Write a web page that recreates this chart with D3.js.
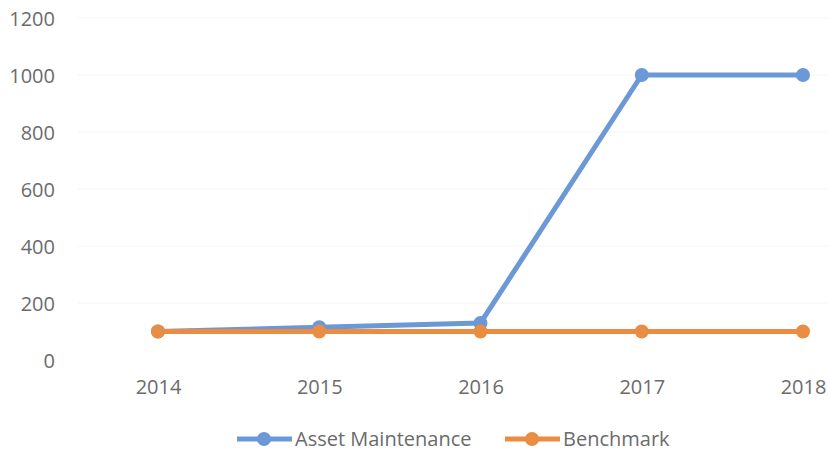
<!DOCTYPE html>
<html>
<head>
<meta charset="utf-8">
<script src="https://cdn.jsdelivr.net/npm/d3@7"></script>
<style>
  body { margin: 0; background: #fff; }
  text { font-family: "Open Sans", sans-serif; fill: #6b6b6b; }
</style>
</head>
<body>
<svg></svg>
<script>
const width = 828;
const height = 451;

const years = ["2014", "2015", "2016", "2017", "2018"];
const assetMaintenance = [100, 115, 130, 1000, 1000];
const benchmark = [100, 100, 100, 100, 100];
const yTicks = [0, 200, 400, 600, 800, 1000, 1200];

const series = [
  {name: "Asset Maintenance", values: assetMaintenance, color: "#6b98d6"},
  {name: "Benchmark", values: benchmark, color: "#ea8c42"}
];

const x = d3.scalePoint()
  .domain(years)
  .range([158, 803]);

const y = d3.scaleLinear()
  .domain([0, 1200])
  .range([360, 18]);

const svg = d3.select("svg")
  .attr("width", width)
  .attr("height", height);

// faint gridlines
svg.append("g")
  .selectAll("line")
  .data(yTicks.slice(1))
  .enter().append("line")
    .attr("x1", 78)
    .attr("x2", width)
    .attr("y1", function(d) { return y(d); })
    .attr("y2", function(d) { return y(d); })
    .attr("stroke", "#f5f5f5")
    .attr("stroke-width", 1);

const yAxis = svg.append("g")
  .attr("transform", "translate(55,0)")
  .call(d3.axisLeft(y).tickValues(yTicks).tickFormat(d3.format("d")).tickSize(0).tickPadding(0));
yAxis.select(".domain").remove();
yAxis.selectAll("text")
  .attr("font-size", 20)
  .attr("dy", "0.35em")
  .style("font-family", "'Open Sans', sans-serif")
  .attr("fill", "#6b6b6b");

const xAxis = svg.append("g")
  .attr("transform", "translate(0,387)")
  .call(d3.axisBottom(x).tickSize(0).tickPadding(0));
xAxis.select(".domain").remove();
xAxis.selectAll("text")
  .attr("font-size", 20)
  .attr("dy", "0.35em")
  .style("font-family", "'Open Sans', sans-serif")
  .attr("fill", "#6b6b6b");

const line = d3.line()
  .x(function(d, i) { return x(years[i]); })
  .y(function(d) { return y(d); });

const lines = svg.selectAll(".series")
  .data(series)
  .enter().append("g")
    .attr("class", "series");

lines.append("path")
  .attr("d", function(s) { return line(s.values); })
  .attr("fill", "none")
  .attr("stroke", function(s) { return s.color; })
  .attr("stroke-width", 5)
  .attr("stroke-linejoin", "round");

lines.selectAll("circle")
  .data(function(s) { return s.values.map(function(v, i) { return {v: v, i: i, color: s.color}; }); })
  .enter().append("circle")
    .attr("cx", function(d) { return x(years[d.i]); })
    .attr("cy", function(d) { return y(d.v); })
    .attr("r", 7)
    .attr("fill", function(d) { return d.color; });

// legend
const legendX = [237, 505];
const legend = svg.selectAll(".legend")
  .data(series)
  .enter().append("g")
    .attr("class", "legend")
    .attr("transform", function(d, i) { return "translate(" + legendX[i] + ",439)"; });

legend.append("line")
  .attr("x1", 0).attr("x2", 55)
  .attr("stroke", function(d) { return d.color; })
  .attr("stroke-width", 5);

legend.append("circle")
  .attr("cx", 27).attr("r", 7)
  .attr("fill", function(d) { return d.color; });

legend.append("text")
  .attr("x", 58)
  .attr("dy", "0.35em")
  .attr("font-size", 20)
  .text(function(d) { return d.name; });
</script>
</body>
</html>
